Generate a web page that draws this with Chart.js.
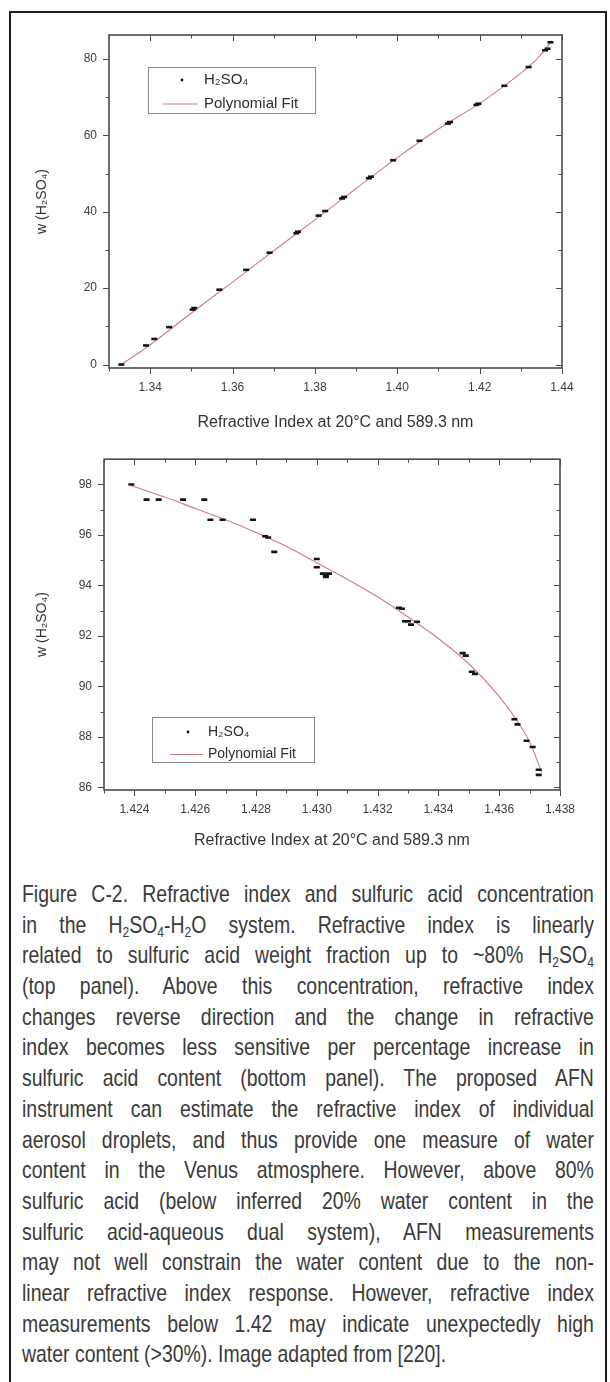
<!DOCTYPE html>
<html>
<head>
<meta charset="utf-8">
<script src="https://cdn.jsdelivr.net/npm/chart.js@4.4.1/dist/chart.umd.min.js"></script>
<style>
  html, body { margin: 0; padding: 0; background: #fff; }
  body { width: 610px; height: 1382px; position: relative; overflow: hidden; font-family: Arial, "Liberation Sans", sans-serif; }
  #box { position: absolute; left: 9px; top: 11px; width: 598px; height: 1420px; border: 2px solid #1e1e1e; box-sizing: border-box; }
  canvas { position: absolute; left: 0; }
  #top { top: 0; }
  #bot { top: 440px; }
  /* narrow caption face: no condensed font installed, so squeeze a regular one */
  #caption { position: absolute; left: 22px; top: 879px; width: 706px; color: #3a3a3a;
    transform: scaleX(0.81); transform-origin: 0 0;
    font-family: "Liberation Sans Narrow", "Arial Narrow", "Liberation Sans", Arial, sans-serif; font-size: 24px; }
  #caption div { height: 30.7px; line-height: 30.7px; text-align: justify; text-align-last: justify; white-space: nowrap; }
  #caption div.last { text-align-last: left; }
  sub { font-size: 0.62em; vertical-align: -0.25em; line-height: 0; }
</style>
</head>
<body>
<div id="box"></div>
<canvas id="top" width="610" height="440"></canvas>
<canvas id="bot" width="610" height="430"></canvas>
<div id="caption">
  <div>Figure C-2. Refractive index and sulfuric acid concentration</div>
  <div>in the H<sub>2</sub>SO<sub>4</sub>-H<sub>2</sub>O system. Refractive index is linearly</div>
  <div>related to sulfuric acid weight fraction up to ~80% H<sub>2</sub>SO<sub>4</sub></div>
  <div>(top panel). Above this concentration, refractive index</div>
  <div>changes reverse direction and the change in refractive</div>
  <div>index becomes less sensitive per percentage increase in</div>
  <div>sulfuric acid content (bottom panel). The proposed AFN</div>
  <div>instrument can estimate the refractive index of individual</div>
  <div>aerosol droplets, and thus provide one measure of water</div>
  <div>content in the Venus atmosphere. However, above 80%</div>
  <div>sulfuric acid (below inferred 20% water content in the</div>
  <div>sulfuric acid-aqueous dual system), AFN measurements</div>
  <div>may not well constrain the water content due to the non-</div>
  <div>linear refractive index response. However, refractive index</div>
  <div>measurements below 1.42 may indicate unexpectedly high</div>
  <div class="last">water content (&gt;30%). Image adapted from [220].</div>
</div>
<script>
// top panel: measured points
const topRi = [1.3330, 1.3390, 1.3410, 1.3446, 1.3503, 1.3507, 1.3568, 1.3633, 1.3690, 1.3755, 1.3759,
  1.3809, 1.3825, 1.3866, 1.3871, 1.3931, 1.3936, 1.3990, 1.4054, 1.4123, 1.4128, 1.4192, 1.4197,
  1.4260, 1.4319, 1.4359, 1.4365, 1.4372];
const topW = [0.0, 5.0, 6.7, 9.8, 14.4, 14.8, 19.6, 24.8, 29.3, 34.4, 34.8,
  39.0, 40.2, 43.5, 43.9, 48.8, 49.2, 53.5, 58.6, 63.1, 63.5, 68.0, 68.3,
  73.0, 77.9, 82.3, 82.7, 84.4];
// top panel: polynomial fit
const topFitRi = [1.3325, 1.340, 1.350, 1.360, 1.370, 1.380, 1.390, 1.400, 1.410, 1.420, 1.425, 1.430, 1.434, 1.436, 1.4375];
const topFitW = [-0.4, 5.2, 13.5, 21.6, 29.8, 37.9, 46.1, 54.2, 61.7, 68.4, 72.2, 76.3, 80.1, 82.6, 84.8];

// bottom panel: measured points
const botRi = [1.4239, 1.4244, 1.4248, 1.4256, 1.4263, 1.4265, 1.4269, 1.4279, 1.4283, 1.4284, 1.4286,
  1.4300, 1.4300, 1.4302, 1.4303, 1.4303, 1.4304, 1.4327, 1.4328, 1.4329, 1.4330, 1.4331, 1.4333,
  1.4348, 1.4349, 1.4351, 1.4352, 1.4365, 1.4366, 1.4369, 1.4371, 1.4373, 1.4373];
const botW = [98.0, 97.4, 97.4, 97.4, 97.4, 96.6, 96.6, 96.6, 95.95, 95.9, 95.33,
  95.05, 94.72, 94.47, 94.40, 94.34, 94.47, 93.12, 93.08, 92.58, 92.58, 92.45, 92.56,
  91.32, 91.22, 90.58, 90.50, 88.70, 88.50, 87.85, 87.60, 86.70, 86.50];
// bottom panel: polynomial fit
const botFitRi = [1.4239, 1.425, 1.426, 1.427, 1.428, 1.429, 1.430, 1.431, 1.432, 1.433, 1.434, 1.435, 1.436, 1.4365, 1.437, 1.4374];
const botFitW = [97.95, 97.5, 97.05, 96.6, 96.1, 95.55, 94.9, 94.25, 93.55, 92.75, 91.9, 90.9, 89.6, 88.8, 87.8, 86.6];

// axes ticks
const topXMajor = [1.34, 1.36, 1.38, 1.40, 1.42, 1.44];
const topXMinor = [1.33, 1.35, 1.37, 1.39, 1.41, 1.43];
const topYMajor = [0, 20, 40, 60, 80];
const topYMinor = [10, 30, 50, 70];
const botXMajor = [1.424, 1.426, 1.428, 1.430, 1.432, 1.434, 1.436, 1.438];
const botXMinor = [1.423, 1.425, 1.427, 1.429, 1.431, 1.433, 1.435, 1.437];
const botYMajor = [86, 88, 90, 92, 94, 96, 98];
const botYMinor = [87, 89, 91, 93, 95, 97];

const seriesNames = ['H\u2082SO\u2084', 'Polynomial Fit'];
const xTitle = 'Refractive Index at 20\u00b0C and 589.3 nm';
const yTitle = 'w (H\u2082SO\u2084)';

// frame with Origin-style ticks (out on left/bottom, in on top/right) + legend box
const frameTicks = {
  id: 'frameTicks',
  afterDraw(chart, args, o) {
    const { ctx, chartArea: a } = chart;
    const x = chart.scales.x, y = chart.scales.y;
    ctx.save();
    ctx.strokeStyle = '#4b4b4b';
    ctx.lineWidth = 1;
    const vx = (vals, len) => vals.forEach(v => {
      const px = Math.round(x.getPixelForValue(v)) + 0.5;
      ctx.beginPath();
      ctx.moveTo(px, a.bottom); ctx.lineTo(px, a.bottom + len);
      ctx.moveTo(px, a.top); ctx.lineTo(px, a.top + len);
      ctx.stroke();
    });
    const vy = (vals, len) => vals.forEach(v => {
      const py = Math.round(y.getPixelForValue(v)) + 0.5;
      ctx.beginPath();
      ctx.moveTo(a.left, py); ctx.lineTo(a.left - len, py);
      ctx.moveTo(a.right, py); ctx.lineTo(a.right - len, py);
      ctx.stroke();
    });
    vx(o.xMajor, 6); vx(o.xMinor, 3.5);
    vy(o.yMajor, 6); vy(o.yMinor, 3.5);
    ctx.lineWidth = 1.6;
    ctx.strokeRect(a.left, a.top, a.right - a.left, a.bottom - a.top);

    // legend
    const L = o.legend;
    const ds = chart.data.datasets;
    ctx.lineWidth = 1;
    ctx.strokeStyle = '#8a8a8a';
    ctx.strokeRect(L.x + 0.5, L.y + 0.5, L.w, L.h);
    ctx.fillStyle = ds[0].pointBorderColor;
    ctx.beginPath();
    ctx.arc(L.dotX, L.row1, 1.4, 0, Math.PI * 2);
    ctx.fill();
    ctx.strokeStyle = ds[1].borderColor;
    ctx.lineWidth = 1.1;
    ctx.beginPath();
    ctx.moveTo(L.lineX0, L.row2 + 0.5); ctx.lineTo(L.lineX1, L.row2 + 0.5);
    ctx.stroke();
    ctx.fillStyle = '#2e2e2e';
    ctx.font = L.font + 'px Arial, "Liberation Sans", sans-serif';
    ctx.textBaseline = 'middle';
    ctx.fillText(ds[0].label, L.textX, L.row1);
    ctx.fillText(ds[1].label, L.textX, L.row2);
    ctx.restore();
  }
};

function panel(id, c) {
  return new Chart(document.getElementById(id), {
    type: 'scatter',
    data: {
      datasets: [
        {
          label: seriesNames[0],
          data: c.ri.map((v, i) => ({ x: v, y: c.w[i] })),
          pointStyle: 'line', pointRadius: 3, pointBorderWidth: 2.6,
          pointBorderColor: '#141414', pointBackgroundColor: '#141414',
          order: 1
        },
        {
          label: seriesNames[1],
          data: c.fitRi.map((v, i) => ({ x: v, y: c.fitW[i] })),
          showLine: true, borderColor: '#cf7d7d', borderWidth: 1.1,
          pointRadius: 0, cubicInterpolationMode: 'monotone',
          order: 2
        }
      ]
    },
    options: {
      responsive: false,
      animation: false,
      devicePixelRatio: 1,
      layout: { padding: c.pad },
      plugins: {
        legend: { display: false },
        tooltip: { enabled: false },
        frameTicks: { xMajor: c.xMajor, xMinor: c.xMinor, yMajor: c.yMajor, yMinor: c.yMinor, legend: c.legend }
      },
      scales: {
        x: {
          type: 'linear', min: c.xMin, max: c.xMax,
          afterBuildTicks: s => { s.ticks = c.xMajor.map(v => ({ value: v })); },
          afterFit: s => { s.height = c.xAxisH; },
          grid: { display: false, drawTicks: false },
          border: { display: false },
          ticks: {
            autoSkip: false, maxRotation: 0, padding: 12, color: '#3c3c3c',
            font: { size: 12, family: 'Arial, "Liberation Sans", sans-serif' },
            callback: v => v.toFixed(c.xDec)
          },
          title: {
            display: true, text: xTitle, color: '#333',
            font: { size: 16, family: 'Arial, "Liberation Sans", sans-serif' },
            padding: { top: 0, bottom: c.xTitlePad }
          }
        },
        y: {
          type: 'linear', min: c.yMin, max: c.yMax,
          afterBuildTicks: s => { s.ticks = c.yMajor.map(v => ({ value: v })); },
          afterFit: s => { s.width = c.yAxisW; },
          grid: { display: false, drawTicks: false },
          border: { display: false },
          ticks: {
            autoSkip: false, padding: 12, color: '#3c3c3c',
            font: { size: 12, family: 'Arial, "Liberation Sans", sans-serif' },
            callback: v => String(v)
          },
          title: {
            display: true, text: yTitle, color: '#333',
            font: { size: 14, family: 'Arial, "Liberation Sans", sans-serif' },
            padding: { top: 34, bottom: 0 }
          }
        }
      }
    },
    plugins: [frameTicks]
  });
}

panel('top', {
  ri: topRi, w: topW, fitRi: topFitRi, fitW: topFitW,
  xMin: 1.330, xMax: 1.440, yMin: -0.9, yMax: 86.3, xDec: 2,
  xMajor: topXMajor, xMinor: topXMinor, yMajor: topYMajor, yMinor: topYMinor,
  pad: { left: 0, top: 35, right: 48, bottom: 0 },
  yAxisW: 109, xAxisH: 72, xTitlePad: 8,
  legend: { x: 148, y: 67, w: 167, h: 46, dotX: 182, lineX0: 163, lineX1: 198, textX: 204, row1: 80, row2: 103.5, font: 15 }
});

panel('bot', {
  ri: botRi, w: botW, fitRi: botFitRi, fitW: botFitW,
  xMin: 1.423, xMax: 1.438, yMin: 85.9, yMax: 99.0, xDec: 3,
  xMajor: botXMajor, xMinor: botXMinor, yMajor: botYMajor, yMinor: botYMinor,
  pad: { left: 0, top: 17, right: 50, bottom: 0 },
  yAxisW: 104, xAxisH: 80, xTitlePad: 20,
  legend: { x: 152, y: 277, w: 162, h: 45, dotX: 188, lineX0: 170, lineX1: 203, textX: 208, row1: 292, row2: 314, font: 14 }
});
</script>
</body>
</html>
